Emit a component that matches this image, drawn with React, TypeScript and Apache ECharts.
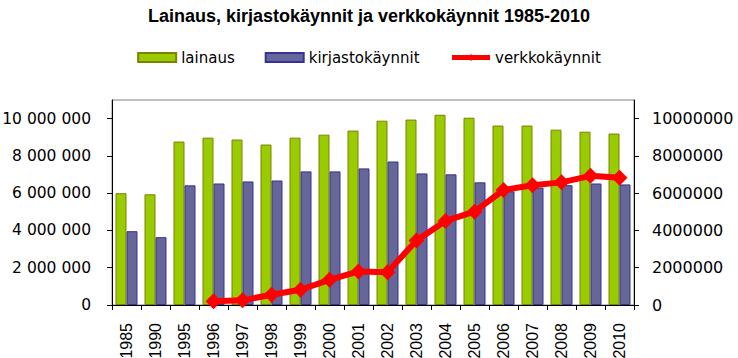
import React, { useEffect, useRef } from "react";
import * as echarts from "echarts";

const categories = ["1985","1990","1995","1996","1997","1998","1999","2000","2001","2002","2003","2004","2005","2006","2007","2008","2009","2010"];
const lainaus = [6000000, 5940000, 8770000, 8980000, 8880000, 8610000, 8980000, 9140000, 9360000, 9890000, 9950000, 10210000, 10050000, 9630000, 9630000, 9410000, 9300000, 9200000];
const kirjastokaynnit = [3960000, 3640000, 6420000, 6520000, 6630000, 6680000, 7170000, 7170000, 7330000, 7700000, 7060000, 7010000, 6580000, 6100000, 6300000, 6430000, 6520000, 6470000];
const verkkokaynnit = [null, null, null, 200000, 250000, 550000, 820000, 1350000, 1800000, 1760000, 3460000, 4510000, 5010000, 6170000, 6430000, 6580000, 6930000, 6830000];
const tickValues = [0, 2000000, 4000000, 6000000, 8000000, 10000000];

const FONT = "DejaVu Sans";

export default function App() {
  const ref = useRef<HTMLDivElement>(null);
  useEffect(() => {
    const chart = echarts.init(ref.current!, null, { renderer: "svg" });
    const yBase = {
      type: "value",
      min: 0,
      max: 11000000,
      interval: 2000000,
      splitLine: { show: false },
      axisLine: { show: true, lineStyle: { color: "#000", width: 1 } },
      axisTick: { show: true, length: 5, lineStyle: { color: "#000" }, customValues: tickValues },
    };
    chart.setOption({
      animation: false,
      backgroundColor: "#fff",
      title: {
        text: "Lainaus, kirjastokäynnit ja verkkokäynnit 1985-2010",
        left: "center",
        top: 2,
        textStyle: { fontFamily: "Liberation Sans", fontWeight: "bold", fontSize: 18, color: "#000" },
      },
      legend: {
        top: 45,
        left: "center",
        itemGap: 30,
        itemWidth: 38,
        itemHeight: 9,
        textStyle: { fontFamily: FONT, fontSize: 15, color: "#000" },
        data: [
          { name: "lainaus", icon: "rect" },
          { name: "kirjastokäynnit", icon: "rect" },
          { name: "verkkokäynnit", lineStyle: { width: 5, color: "#FF0000" }, itemStyle: { color: "#FF0000" } },
        ],
      },
      grid: {
        left: 112,
        right: 104,
        top: 100,
        bottom: 53,
        containLabel: false,
        outerBoundsMode: "none",
        show: true,
        borderColor: "#808080",
        borderWidth: 1,
        backgroundColor: "transparent",
      },
      xAxis: {
        type: "category",
        data: categories,
        boundaryGap: true,
        axisLine: { lineStyle: { color: "#000" } },
        axisTick: { show: true, length: 5, lineStyle: { color: "#000" } },
        axisLabel: { rotate: 90, margin: 18, fontFamily: "Liberation Sans", fontSize: 16, color: "#000", interval: 0 },
      },
      yAxis: [
        {
          ...yBase,
          position: "left",
          axisLabel: {
            margin: 21,
            fontFamily: FONT,
            fontSize: 15.5,
            color: "#000",
            customValues: tickValues,
            formatter: (v: number) => String(Math.round(v)).replace(/\B(?=(\d{3})+(?!\d))/g, " "),
          },
        },
        {
          ...yBase,
          position: "right",
          axisLabel: {
            margin: 18,
            fontFamily: FONT,
            fontSize: 16,
            color: "#000",
            customValues: tickValues,
            formatter: (v: number) => String(Math.round(v)),
          },
        },
      ],
      series: [
        {
          name: "lainaus",
          type: "bar",
          data: lainaus,
          barWidth: 11,
          barGap: "0%",
          itemStyle: { color: "#99CC00", borderColor: "#808000", borderWidth: 1 },
        },
        {
          name: "kirjastokäynnit",
          type: "bar",
          data: kirjastokaynnit,
          barWidth: 11,
          barGap: "0%",
          itemStyle: { color: "#666699", borderColor: "#333399", borderWidth: 1 },
        },
        {
          name: "verkkokäynnit",
          type: "line",
          yAxisIndex: 1,
          data: verkkokaynnit,
          symbol: "diamond",
          symbolSize: 16,
          showAllSymbol: true,
          connectNulls: false,
          lineStyle: { color: "#FF0000", width: 6 },
          itemStyle: { color: "#FF0000" },
          z: 5,
        },
      ],
    });
    return () => chart.dispose();
  }, []);
  return <div ref={ref} style={{ position: "fixed", left: 0, top: 0, width: 738, height: 358 }} />;
}
